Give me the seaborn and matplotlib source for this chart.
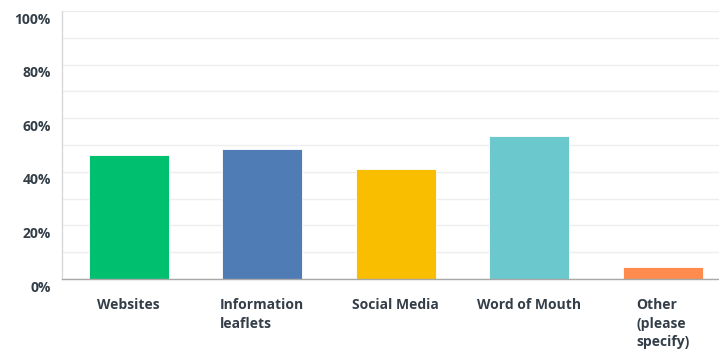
import matplotlib
matplotlib.use("Agg")
import matplotlib.pyplot as plt
import matplotlib.transforms as mtransforms
import seaborn as sns
import pandas as pd

categories = ["Websites", "Information leaflets", "Social Media", "Word of Mouth", "Other (please specify)"]
tick_labels = ["Websites", "Information\nleaflets", "Social Media", "Word of Mouth", "Other\n(please\nspecify)"]
values = [46.2, 48.6, 41.0, 53.3, 4.6]
colors = ["#00BF6F", "#507CB6", "#F9BE00", "#6BC8CD", "#FF8B4F"]
y_ticks = [0, 20, 40, 60, 80, 100]
y_tick_labels = ["0%", "20%", "40%", "60%", "80%", "100%"]

df = pd.DataFrame({"category": categories, "value": values})

sns.set_style("white")
plt.rcParams["font.family"] = ["Open Sans", "DejaVu Sans"]

fig = plt.figure(figsize=(7.19, 3.52), dpi=100)
ax = fig.add_axes([62 / 719, (352 - 279) / 352, 667.5 / 719, 268 / 352])

sns.barplot(data=df, x="category", y="value", hue="category", palette=colors,
            legend=False, width=0.6, ax=ax, saturation=1,
            edgecolor="white", linewidth=0.6)

ax.set_xlim(-0.5, len(categories) - 0.5)
ax.set_ylim(0, 100)
ax.set_yticks(y_ticks, y_tick_labels)
ax.set_yticks([i for i in range(10, 100, 20)], minor=True)
ax.yaxis.grid(True, which="both", color="#EDEEEE", linewidth=1)
ax.set_axisbelow(True)
ax.set_xticks(range(len(categories)), tick_labels)
ax.set_xlabel("")
ax.set_ylabel("")

for s in ["top", "right"]:
    ax.spines[s].set_visible(False)
ax.spines["left"].set_color("#D9D9D9")
ax.spines["left"].set_linewidth(1)
ax.spines["bottom"].set_color("#A8A8A8")
ax.spines["bottom"].set_linewidth(1)

ax.tick_params(axis="x", length=0, pad=14, labelsize=10, labelcolor="#333E48")
ax.tick_params(axis="y", which="both", length=0, pad=8, labelsize=10, labelcolor="#333E48")

for t in ax.get_xticklabels():
    t.set_fontweight("bold")
    t.set_multialignment("left")
    t.set_linespacing(1.4)
offset = mtransforms.ScaledTranslation(0, -7 / 100, fig.dpi_scale_trans)
for t in ax.get_yticklabels():
    t.set_fontweight("bold")
    t.set_transform(t.get_transform() + offset)

fig.savefig("out.png", dpi=100)
